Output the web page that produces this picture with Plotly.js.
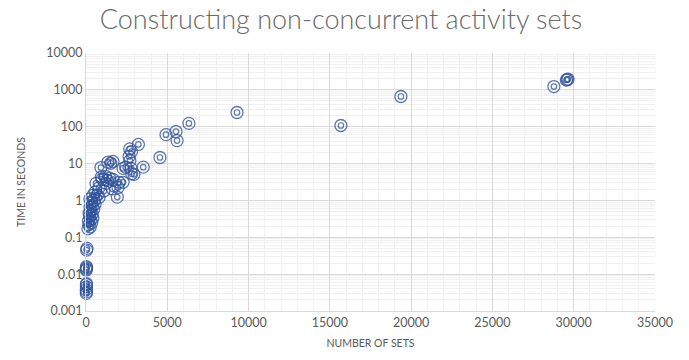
<!DOCTYPE html>
<html>
<head>
<meta charset="utf-8">
<script src="https://cdn.plot.ly/plotly-3.0.1.min.js"></script>
<style>html,body{margin:0;padding:0;background:#fff;}#chart{width:689px;height:360px;}</style>
</head>
<body>
<div id="chart"></div>
<script>
// Number of sets (x) and time in seconds (y)
const numberOfSets = [
  20, 30, 15, 25, 20, 35,
  20, 30, 25, 15,
  40, 60,
  120, 260, 180, 350, 150, 280, 420, 230, 380, 190, 300, 470, 250, 400, 560, 330, 500, 240, 420, 560, 700, 800,
  615, 940, 1000, 1310, 1230, 1620, 1925, 2030, 2280, 1660, 1970, 800, 1100, 1350, 1520, 920, 1660, 2440, 2280, 2770, 2810, 2950, 3520, 2650, 2700, 2690, 2800, 3220, 1200, 1450,
  4550, 4920, 5535, 5600, 6330, 9290, 15680, 19370, 28780, 29550, 29650, 29600
];
const timeSeconds = [
  0.0030, 0.0033, 0.0038, 0.0045, 0.0052, 0.0055,
  0.014, 0.015, 0.016, 0.013,
  0.045, 0.050,
  0.17, 0.19, 0.22, 0.25, 0.28, 0.30, 0.33, 0.38, 0.42, 0.45, 0.52, 0.58, 0.65, 0.72, 0.80, 0.90, 1.0, 1.1, 1.37, 1.68, 1.4, 1.2,
  2.9, 4.3, 3.8, 3.5, 2.9, 2.07, 1.23, 3.1, 3.1, 3.7, 2.25, 2.2, 1.8, 10.9, 10.2, 7.8, 11.4, 8.0, 7.4, 7.4, 5.3, 5.1, 8.0, 15.6, 12, 25, 21, 33, 4.5, 4.0,
  14.6, 61, 74, 42, 123, 243, 108, 660, 1230, 1850, 1950, 1900
];

const xTickVals = [0, 5000, 10000, 15000, 20000, 25000, 30000, 35000];
const xTickText = ["0", "5000", "10000", "15000", "20000", "25000", "30000", "35000"];
const yTickVals = [0.001, 0.01, 0.1, 1, 10, 100, 1000, 10000];
const yTickText = ["0.001", "0.01", "0.1", "1", "10", "100", "1000", "10000"];

const markerColor = 'rgba(47,82,155,0.78)';
const font = 'Lato, "Open Sans", "DejaVu Sans", sans-serif';

const outer = {
  x: numberOfSets, y: timeSeconds, type: 'scatter', mode: 'markers',
  cliponaxis: false, showlegend: false, hoverinfo: 'x+y',
  marker: {symbol: 'circle-open', size: 12, line: {width: 1.3, color: markerColor}, color: markerColor}
};
const inner = {
  x: numberOfSets, y: timeSeconds, type: 'scatter', mode: 'markers',
  cliponaxis: false, showlegend: false, hoverinfo: 'skip',
  marker: {symbol: 'circle-open', size: 5.5, line: {width: 1.2, color: markerColor}, color: markerColor}
};

const layout = {
  width: 689, height: 360,
  margin: {l: 86, r: 34, t: 53, b: 49},
  paper_bgcolor: '#ffffff', plot_bgcolor: '#ffffff',
  font: {family: font, color: '#595959', size: 12},
  title: {
    text: 'Constructing non-concurrent activity sets',
    font: {family: font, size: 27, color: '#6a6a6a', weight: 300},
    x: 0.495, xref: 'container', xanchor: 'center',
    y: 1 - 20/360, yref: 'container', yanchor: 'middle'
  },
  xaxis: {
    range: [0, 35000], tickvals: xTickVals, ticktext: xTickText,
    showgrid: true, gridcolor: '#d9d9d9', gridwidth: 1,
    minor: {dtick: 1000, showgrid: true, gridcolor: '#f0f0f0', gridwidth: 1},
    showline: true, linecolor: '#d9d9d9', linewidth: 1,
    zeroline: false, ticks: '',
    tickfont: {size: 12.5, color: '#595959'},
    title: {text: 'NUMBER OF SETS', font: {size: 10.5, color: '#595959'}, standoff: 10}
  },
  yaxis: {
    type: 'log', range: [-3, 4], tickvals: yTickVals, ticktext: yTickText,
    showgrid: true, gridcolor: '#d9d9d9', gridwidth: 1,
    minor: {dtick: 'D1', showgrid: true, gridcolor: '#f0f0f0', gridwidth: 1},
    showline: true, linecolor: '#d9d9d9', linewidth: 1,
    zeroline: false, ticks: '',
    tickfont: {size: 12.5, color: '#595959'},
    title: {text: 'TIME IN SECONDS', font: {size: 10.5, color: '#595959'}, standoff: 18}
  }
};

Plotly.newPlot('chart', [outer, inner], layout, {displayModeBar: false, staticPlot: true});
</script>
</body>
</html>
